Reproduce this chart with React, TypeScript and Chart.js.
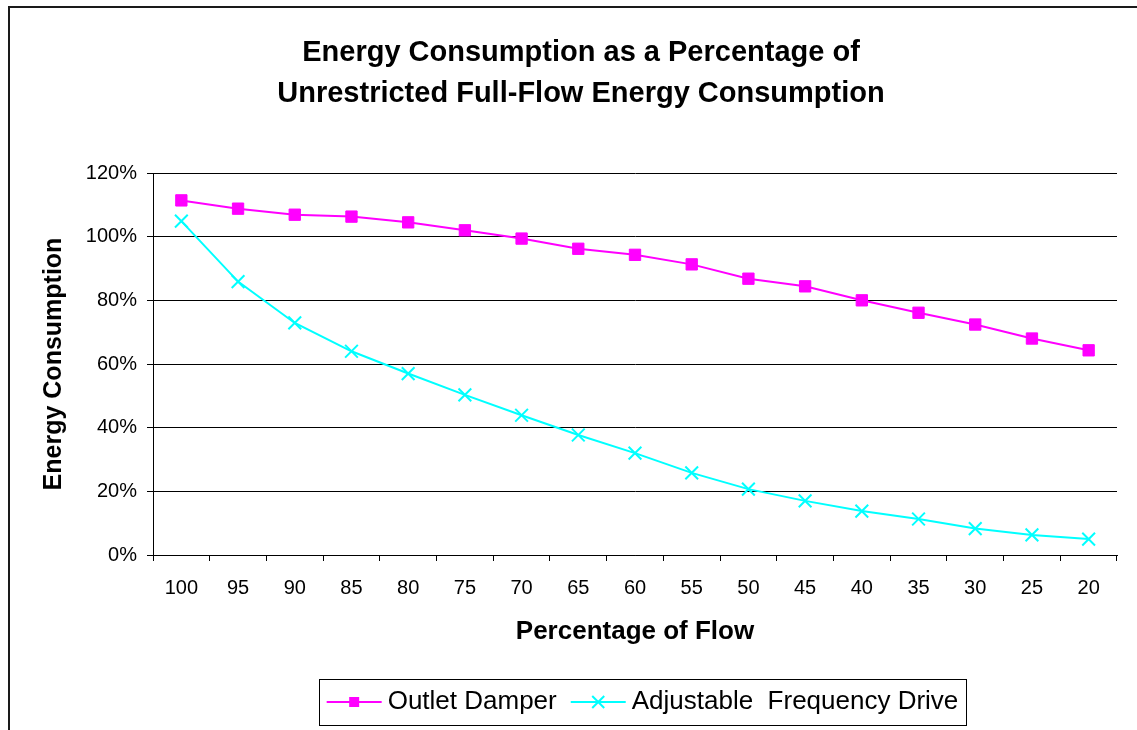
import React, { useEffect, useRef } from "react";
import { Chart, registerables } from "chart.js";

Chart.register(...registerables);

// ---- Data ----
const flowLabels = ["100", "95", "90", "85", "80", "75", "70", "65", "60", "55", "50", "45", "40", "35", "30", "25", "20"];
const outletDamper = [111.4, 108.8, 106.9, 106.3, 104.5, 102.0, 99.4, 96.2, 94.3, 91.3, 86.8, 84.4, 80.0, 76.1, 72.4, 68.0, 64.3];
const adjustableFrequencyDrive = [104.9, 85.9, 72.9, 64.0, 57.0, 50.3, 43.9, 37.7, 32.0, 25.8, 20.7, 17.0, 13.8, 11.3, 8.3, 6.3, 5.0];
const seriesNames = ["Outlet Damper", "Adjustable  Frequency Drive"];
const chartTitle = ["Energy Consumption as a Percentage of", "Unrestricted Full-Flow Energy Consumption"];
const xAxisTitle = "Percentage of Flow";
const yAxisTitle = "Energy Consumption";
const yMin = 0;
const yMax = 120;
const yStep = 20;

const FONT = '"Liberation Sans", Arial, Helvetica, sans-serif';
const MAGENTA = "#FF00FF";
const CYAN = "#00FFFF";

const framePlugin = {
  id: "frame",
  beforeDraw(chart: any) {
    const ctx = chart.ctx;
    ctx.save();
    ctx.fillStyle = "#ffffff";
    ctx.fillRect(0, 0, chart.width, chart.height);
    ctx.strokeStyle = "#1a1a1a";
    ctx.lineWidth = 2;
    ctx.beginPath();
    ctx.moveTo(9, chart.height + 5);
    ctx.lineTo(9, 7);
    ctx.lineTo(chart.width + 5, 7);
    ctx.stroke();
    ctx.restore();
  },
};

const boxLegendPlugin = {
  id: "boxLegend",
  afterDraw(chart: any) {
    const ctx = chart.ctx;
    ctx.save();
    const bx = 319, by = 679, bw = 647, bh = 46;
    ctx.strokeStyle = "#000";
    ctx.lineWidth = 1;
    ctx.strokeRect(bx + 0.5, by + 0.5, bw, bh);
    const cy = by + bh / 2;
    ctx.font = `26px ${FONT}`;
    ctx.textBaseline = "middle";
    ctx.textAlign = "left";
    const lineLen = 55;
    const textGap = 6;
    const itemGap = 14;
    const widths = chart.data.datasets.map((d: any) => lineLen + textGap + ctx.measureText(d.label).width);
    const total = widths.reduce((a: number, b: number) => a + b, 0) + itemGap * (widths.length - 1);
    let x = bx + bw / 2 - total / 2;
    chart.data.datasets.forEach((d: any, i: number) => {
      const color = d.borderColor;
      ctx.strokeStyle = color;
      ctx.lineWidth = 2;
      ctx.beginPath();
      ctx.moveTo(x, cy);
      ctx.lineTo(x + lineLen, cy);
      ctx.stroke();
      const mx = x + lineLen / 2;
      if (d.pointStyle === "rect") {
        ctx.fillStyle = color;
        ctx.fillRect(mx - 5, cy - 5, 10, 10);
      } else {
        ctx.beginPath();
        ctx.moveTo(mx - 6, cy - 6);
        ctx.lineTo(mx + 6, cy + 6);
        ctx.moveTo(mx + 6, cy - 6);
        ctx.lineTo(mx - 6, cy + 6);
        ctx.stroke();
      }
      ctx.fillStyle = "#000";
      ctx.fillText(d.label, x + lineLen + textGap, cy);
      x += widths[i] + itemGap;
    });
    ctx.restore();
  },
};

export default function App() {
  const canvasRef = useRef<HTMLCanvasElement | null>(null);

  useEffect(() => {
    if (!canvasRef.current) return;
    const chart = new Chart(canvasRef.current, {
      type: "line",
      data: {
        labels: flowLabels,
        datasets: [
          {
            label: seriesNames[0],
            data: outletDamper,
            borderColor: MAGENTA,
            backgroundColor: MAGENTA,
            borderWidth: 2,
            pointStyle: "rect",
            pointRadius: 8,
            pointBorderWidth: 1,
            pointBackgroundColor: MAGENTA,
            pointBorderColor: MAGENTA,
            tension: 0,
            fill: false,
          },
          {
            label: seriesNames[1],
            data: adjustableFrequencyDrive,
            borderColor: CYAN,
            backgroundColor: CYAN,
            borderWidth: 2,
            pointStyle: "crossRot",
            pointRadius: 9,
            pointBorderWidth: 2,
            pointBorderColor: CYAN,
            tension: 0,
            fill: false,
          },
        ],
      },
      options: {
        responsive: false,
        animation: false,
        devicePixelRatio: 1,
        layout: { padding: { left: 45, right: 20, top: 0, bottom: 0 } },
        plugins: {
          legend: { display: false },
          tooltip: { enabled: false },
          title: {
            display: true,
            text: chartTitle,
            color: "#000",
            font: { family: FONT, size: 29, weight: "bold", lineHeight: 1.414 },
            padding: { top: 32, bottom: 59 },
          },
        },
        scales: {
          x: {
            type: "category",
            offset: true,
            grid: {
              display: true,
              drawOnChartArea: false,
              drawTicks: true,
              tickLength: 6,
              color: "#000",
              offset: true,
            },
            border: { display: true, color: "#000", width: 1 },
            ticks: {
              color: "#000",
              font: { family: FONT, size: 20 },
              padding: 15,
              maxRotation: 0,
              autoSkip: false,
            },
            title: {
              display: true,
              text: xAxisTitle,
              color: "#000",
              font: { family: FONT, size: 26, weight: "bold" },
              padding: { top: 0, bottom: 83 },
            },
            afterFit(scale: any) {
              scale.height = 175;
            },
          },
          y: {
            min: yMin,
            max: yMax,
            grid: { color: "#000", tickLength: 6, drawTicks: true },
            border: { display: true, color: "#000", width: 1 },
            ticks: {
              stepSize: yStep,
              color: "#000",
              font: { family: FONT, size: 20 },
              padding: 10,
              callback: (v: any) => `${v}%`,
            },
            title: {
              display: true,
              text: yAxisTitle,
              color: "#000",
              font: { family: FONT, size: 25, weight: "bold" },
              padding: { top: -6, bottom: 0 },
            },
            afterFit(scale: any) {
              scale.width = 108;
            },
          },
        },
      },
      plugins: [framePlugin, boxLegendPlugin],
    } as any);
    return () => chart.destroy();
  }, []);

  return (
    <div style={{ position: "fixed", left: 0, top: 0, width: 1137, height: 730, background: "#fff" }}>
      <canvas ref={canvasRef} width={1137} height={730} style={{ display: "block", width: 1137, height: 730 }} />
    </div>
  );
}
